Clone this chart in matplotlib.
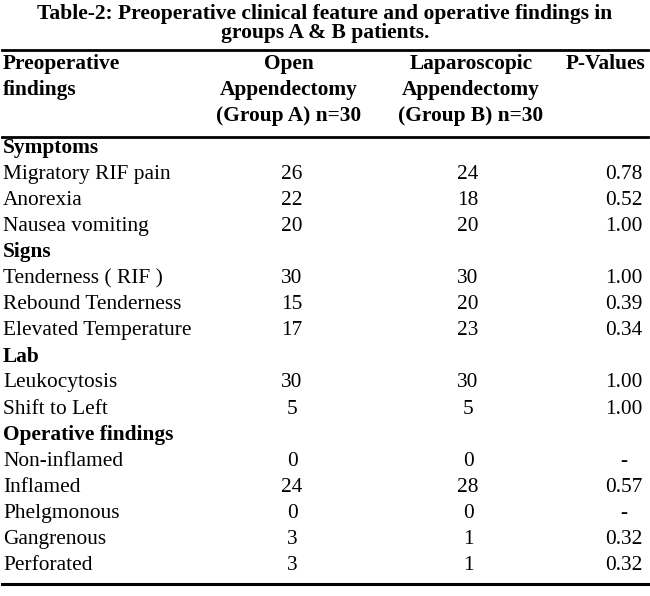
import matplotlib
matplotlib.use('Agg')
import matplotlib.pyplot as plt

# данные таблицы
title_lines = ['Table-2: Preoperative clinical feature and operative findings in',
               'groups A & B patients.']
headers = [['Preoperative', 'findings'],
           ['Open', 'Appendectomy', '(Group A) n=30'],
           ['Laparoscopic', 'Appendectomy', '(Group B) n=30'],
           ['P-Values']]

sections = ['Symptoms', 'Signs', 'Lab', 'Operative findings']
labels = [
    ['Migratory RIF pain', 'Anorexia', 'Nausea vomiting'],
    ['Tenderness ( RIF )', 'Rebound Tenderness', 'Elevated Temperature'],
    ['Leukocytosis', 'Shift to Left'],
    ['Non-inflamed', 'Inflamed', 'Phelgmonous', 'Gangrenous', 'Perforated'],
]
group_a = [[26, 22, 20], [30, 15, 17], [30, 5], [0, 24, 0, 3, 3]]
group_b = [[24, 18, 20], [30, 20, 23], [30, 5], [0, 28, 0, 1, 1]]
p_values = [['0.78', '0.52', '1.00'], ['1.00', '0.39', '0.34'],
            ['1.00', '1.00'], ['-', '0.57', '-', '0.32', '0.32']]

W, H = 650, 596
fig = plt.figure(figsize=(W / 100, H / 100), dpi=100)
ax = fig.add_axes([0, 0, 1, 1])
ax.set_xlim(0, W)
ax.set_ylim(H, 0)
ax.axis('off')

font = 'Liberation Serif'
fs = 15.4
col_x = [3, 292, 468, 624]
head_x = [3, 289, 471, 606]

# заголовок
for i, t in enumerate(title_lines):
    ax.text(325, 14 + i * 19, t, ha='center', va='center', family=font,
            fontsize=15.5, fontweight='bold')

# линии
ax.plot([2, 648], [50, 50], color='black', lw=2)
ax.plot([2, 648], [137, 137], color='black', lw=2)
ax.plot([2, 648], [584, 584], color='black', lw=2.2)

# шапка
for j, h in enumerate(headers):
    for k, line in enumerate(h):
        ax.text(head_x[j], 64 + k * 26, line, ha='left' if j == 0 else 'center',
                va='center', family=font, fontsize=fs, fontweight='bold')

# строки
y = 148
row_h = 26.1
for s, sec in enumerate(sections):
    ax.text(col_x[0], y, sec, ha='left', va='center', family=font,
            fontsize=fs, fontweight='bold')
    y += row_h
    for lab, a, b, p in zip(labels[s], group_a[s], group_b[s], p_values[s]):
        ax.text(col_x[0], y, lab, ha='left', va='center', family=font, fontsize=fs)
        ax.text(col_x[1], y, str(a), ha='center', va='center', family=font, fontsize=fs)
        ax.text(col_x[2], y, str(b), ha='center', va='center', family=font, fontsize=fs)
        ax.text(col_x[3], y, p, ha='center', va='center', family=font, fontsize=fs)
        y += row_h

fig.savefig('out.png', dpi=100)
